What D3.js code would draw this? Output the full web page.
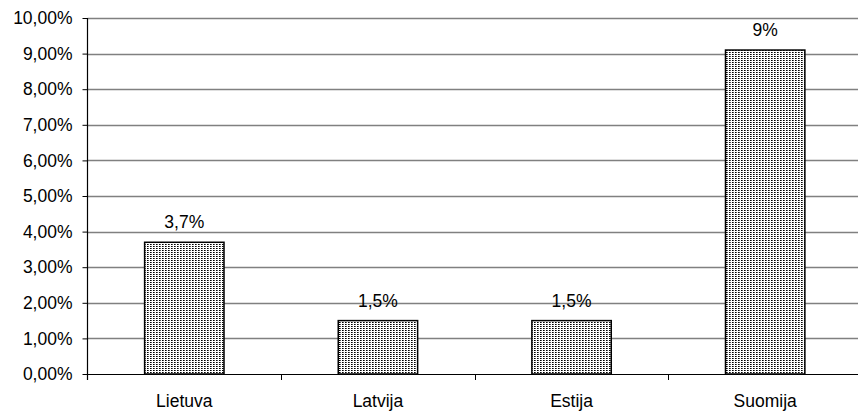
<!DOCTYPE html>
<html><head><meta charset="utf-8">
<script src="https://cdn.jsdelivr.net/npm/d3@7/dist/d3.min.js"></script>
<style>
html,body{margin:0;padding:0;background:#fff;}
svg{display:block;font-family:"Liberation Sans",Arial,sans-serif;}
</style></head>
<body><svg id="c" width="858" height="412"></svg>
<script>
const categories = ["Lietuva", "Latvija", "Estija", "Suomija"];
const values = [3.7, 1.5, 1.5, 9.1];
const valueLabels = ["3,7%", "1,5%", "1,5%", "9%"];
const yTicks = [0,1,2,3,4,5,6,7,8,9,10];
const yTickLabels = ["0,00%","1,00%","2,00%","3,00%","4,00%","5,00%","6,00%","7,00%","8,00%","9,00%","10,00%"];

const svg = d3.select("#c");
const mLeft = 87.5, mRight = 862, mTop = 18, mBottom = 374;
const x = d3.scaleBand().domain(categories).range([mLeft, mRight]).paddingInner(0.59).paddingOuter(0.295);
const xb = d3.scaleBand().domain(categories).range([mLeft, mRight]);
const y = d3.scaleLinear().domain([0, 10]).range([mBottom, mTop]);

const defs = svg.append("defs");
const pat = defs.append("pattern").attr("id","dots").attr("width",3).attr("height",2).attr("patternUnits","userSpaceOnUse");
pat.append("rect").attr("width",3).attr("height",2).attr("fill","#fff");
pat.append("rect").attr("x",0).attr("y",0).attr("width",1).attr("height",1).attr("fill","#000");
pat.append("rect").attr("x",1).attr("y",0).attr("width",1).attr("height",1).attr("fill","#555");

// gridlines
svg.append("g").selectAll("line").data(yTicks.filter(d => d > 0)).join("line")
  .attr("x1", mLeft).attr("x2", 858)
  .attr("y1", d => Math.round(y(d)) + 0.5).attr("y2", d => Math.round(y(d)) + 0.5)
  .attr("stroke", "#808080").attr("stroke-width", 1.3);

// bars
svg.append("g").selectAll("rect").data(values).join("rect")
  .attr("x", (d,i) => x(categories[i]))
  .attr("y", d => y(d))
  .attr("width", x.bandwidth())
  .attr("height", d => y(0) - y(d))
  .attr("fill", "url(#dots)")
  .attr("stroke", "#000").attr("stroke-width", 1.5);

// y axis
const yAxis = d3.axisLeft(y).tickValues(yTicks).tickFormat((d,i) => yTickLabels[i]).tickSize(5).tickPadding(10);
const gy = svg.append("g").attr("transform", `translate(${mLeft},0)`).call(yAxis);
gy.select(".domain").attr("d", `M0,${mTop}V${mBottom + 6}`).attr("stroke","#000").attr("stroke-width",1.2);
gy.selectAll(".tick line").attr("stroke","#000");
gy.selectAll(".tick text").attr("font-size", "17.5px").attr("fill","#000").attr("font-family","Liberation Sans, Arial, sans-serif");

// x axis
const gx = svg.append("g").attr("transform", `translate(0,${mBottom})`);
gx.append("line").attr("x1", mLeft).attr("x2", 858).attr("y1", 0.5).attr("y2", 0.5).attr("stroke", "#000").attr("stroke-width", 1.2);
gx.selectAll("line.t").data(categories.slice(1)).join("line").attr("class","t")
  .attr("x1", d => Math.round(xb(d)) + 0.5).attr("x2", d => Math.round(xb(d)) + 0.5)
  .attr("y1", 0).attr("y2", 6).attr("stroke", "#000");
gx.selectAll("text").data(categories).join("text")
  .attr("x", d => xb(d) + xb.bandwidth()/2).attr("y", 33)
  .attr("text-anchor", "middle").attr("font-size", "17.5px").attr("fill", "#000")
  .text(d => d);

// value labels
svg.append("g").selectAll("text").data(values).join("text")
  .attr("x", (d,i) => x(categories[i]) + x.bandwidth()/2)
  .attr("y", d => y(d) - 14)
  .attr("text-anchor", "middle").attr("font-size", "17.5px").attr("fill", "#000")
  .text((d,i) => valueLabels[i]);
</script></body></html>
